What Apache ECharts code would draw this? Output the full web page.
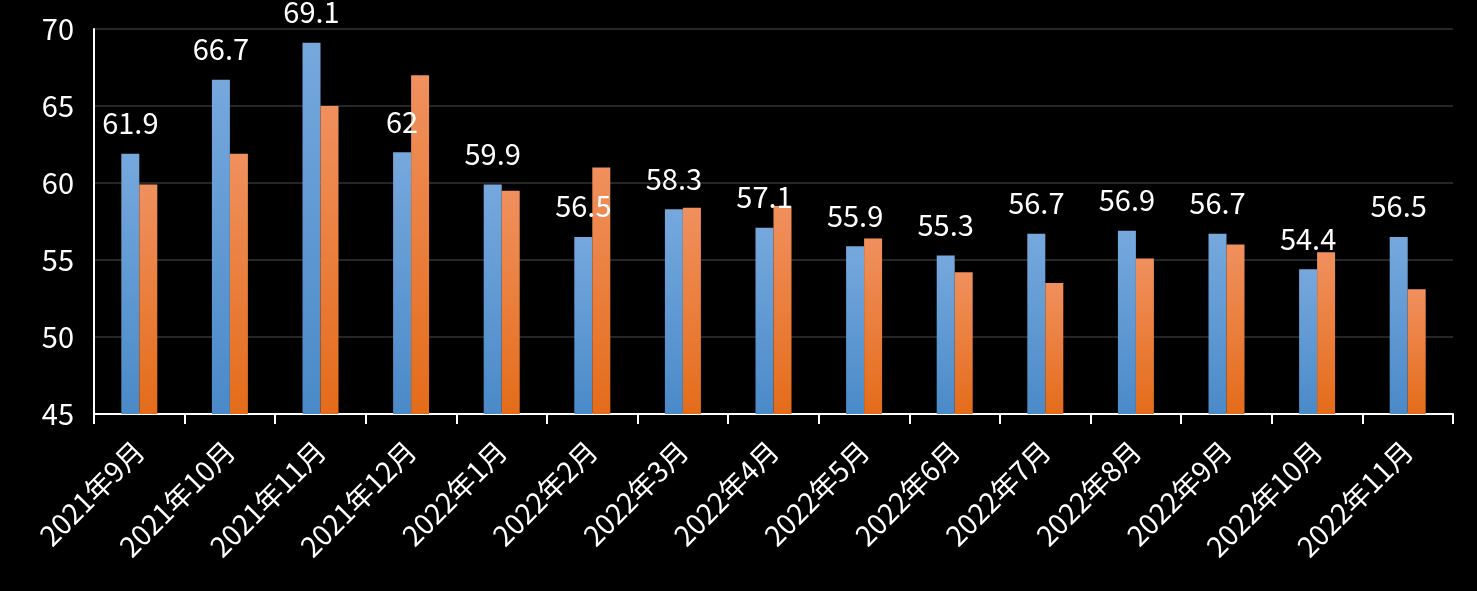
<!DOCTYPE html>
<html><head><meta charset="utf-8">
<script src="https://cdn.jsdelivr.net/npm/echarts@6/dist/echarts.min.js"></script>
<style>html,body{margin:0;padding:0;background:#000}#c{width:1477px;height:591px}</style>
</head><body><div id="c"></div>
<script>
const categories = ['2021年9月','2021年10月','2021年11月','2021年12月','2022年1月','2022年2月','2022年3月','2022年4月','2022年5月','2022年6月','2022年7月','2022年8月','2022年9月','2022年10月','2022年11月'];
const seriesA = [61.9,66.7,69.1,62,59.9,56.5,58.3,57.1,55.9,55.3,56.7,56.9,56.7,54.4,56.5];
const seriesB = [59.9,61.9,65.0,67.0,59.5,61.0,58.4,58.5,56.4,54.2,53.5,55.1,56.0,55.5,53.1];
const yTicks = {min:45, max:70, interval:5};
const font = '"Noto Sans CJK SC", "Open Sans", sans-serif';
const chart = echarts.init(document.getElementById('c'));
chart.setOption({
  backgroundColor:'#000',
  animation:false,
  grid:{left:94, right:24, top:29, bottom:177},
  xAxis:{type:'category', data:categories, boundaryGap:true,
    axisLine:{lineStyle:{color:'#fff', width:2}},
    axisTick:{show:true, length:10, lineStyle:{color:'#fff', width:2}},
    axisLabel:{color:'#fff', rotate:45, fontSize:28, fontFamily:font, margin:32, interval:0}},
  yAxis:{type:'value', min:yTicks.min, max:yTicks.max, interval:yTicks.interval,
    axisLine:{show:true, lineStyle:{color:'#fff', width:2}},
    axisTick:{show:false},
    splitLine:{lineStyle:{color:'#262626', width:2}},
    axisLabel:{color:'#fff', fontSize:29, fontFamily:font, margin:20}},
  series:[
    {type:'bar', data:seriesA, barWidth:18, barGap:'0%',
     itemStyle:{color:new echarts.graphic.LinearGradient(0,0,0,1,[{offset:0,color:'#76a8dd'},{offset:1,color:'#4a8ac8'}])},
     label:{show:true, position:'top', distance:16, color:'#fff', fontSize:29, fontFamily:font}},
    {type:'bar', data:seriesB, barWidth:18, barGap:'0%',
     itemStyle:{color:new echarts.graphic.LinearGradient(0,0,0,1,[{offset:0,color:'#f0905e'},{offset:1,color:'#e46c1a'}])}}
  ]
});
</script></body></html>
